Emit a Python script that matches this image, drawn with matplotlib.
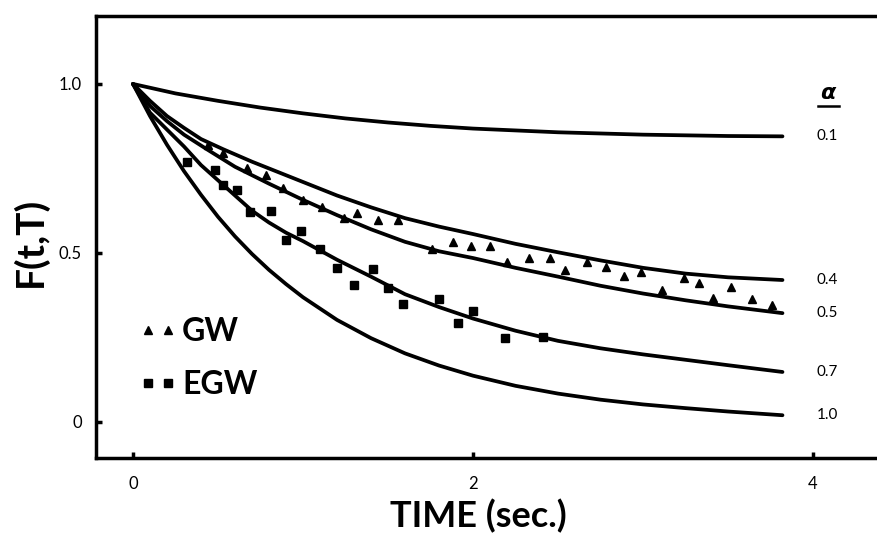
import numpy as np
import matplotlib
matplotlib.use("Agg")
import matplotlib.pyplot as plt
from matplotlib.lines import Line2D

plt.rcParams['font.family'] = ['Lato', 'DejaVu Sans']

# model curves, one per alpha
alphas = ["0.1", "0.4", "0.5", "0.7", "1.0"]
curve_t = {
    "0.1": [0, 0.25, 0.5, 0.75, 1.0, 1.25, 1.5, 1.75, 2.0, 2.5, 3.0, 3.5, 3.82],
    "0.4": [0, 0.1, 0.2, 0.3, 0.4, 0.53, 0.7, 0.86, 1.0, 1.2, 1.4, 1.6, 1.8, 2.0,
            2.25, 2.5, 2.75, 3.0, 3.25, 3.5, 3.82],
    "0.5": [0, 0.1, 0.2, 0.3, 0.44, 0.6, 0.8, 1.0, 1.2, 1.4, 1.6, 1.8, 2.0,
            2.25, 2.5, 2.75, 3.0, 3.25, 3.5, 3.82],
    "0.7": [0, 0.1, 0.2, 0.3, 0.4, 0.5, 0.6, 0.7, 0.8, 0.9, 1.0, 1.2, 1.4, 1.6,
            1.8, 2.0, 2.25, 2.5, 2.75, 3.0, 3.25, 3.5, 3.82],
    "1.0": [0, 0.1, 0.2, 0.3, 0.4, 0.5, 0.6, 0.7, 0.8, 0.9, 1.0, 1.2, 1.4, 1.6,
            1.8, 2.0, 2.25, 2.5, 2.75, 3.0, 3.25, 3.5, 3.82],
}
curve_f = {
    "0.1": [1.0, 0.972, 0.95, 0.93, 0.913, 0.898, 0.886, 0.876, 0.868, 0.857,
            0.85, 0.846, 0.845],
    "0.4": [1.0, 0.95, 0.905, 0.87, 0.837, 0.807, 0.77, 0.738, 0.71, 0.67, 0.635,
            0.603, 0.578, 0.556, 0.527, 0.502, 0.478, 0.456, 0.439, 0.428, 0.42],
    "0.5": [1.0, 0.935, 0.89, 0.85, 0.805, 0.755, 0.705, 0.657, 0.612, 0.57,
            0.533, 0.505, 0.485, 0.456, 0.43, 0.403, 0.38, 0.36, 0.342, 0.322],
    "0.7": [1.0, 0.915, 0.865, 0.815, 0.76, 0.715, 0.67, 0.625, 0.59, 0.56, 0.535,
            0.48, 0.43, 0.378, 0.34, 0.306, 0.27, 0.24, 0.218, 0.2, 0.184, 0.168, 0.148],
    "1.0": [1.0, 0.905, 0.82, 0.742, 0.672, 0.607, 0.549, 0.497, 0.45, 0.408, 0.369,
            0.302, 0.248, 0.203, 0.167, 0.137, 0.107, 0.084, 0.066, 0.052, 0.041,
            0.031, 0.02],
}

# GW (triangles)
gw_t = [0.44, 0.53, 0.67, 0.78, 0.88, 1.0, 1.11, 1.24, 1.32, 1.44, 1.56,
        1.76, 1.88, 1.99, 2.10, 2.20, 2.33, 2.45, 2.54, 2.67, 2.78, 2.89,
        2.99, 3.11, 3.24, 3.33, 3.41, 3.52, 3.64, 3.76]
gw_f = [0.82, 0.796, 0.751, 0.731, 0.692, 0.657, 0.636, 0.604, 0.618, 0.598, 0.598,
        0.512, 0.533, 0.521, 0.521, 0.473, 0.485, 0.485, 0.450, 0.473, 0.459, 0.432,
        0.444, 0.391, 0.426, 0.411, 0.367, 0.399, 0.364, 0.346]

# EGW (squares)
egw_t = [0.32, 0.48, 0.53, 0.61, 0.69, 0.81, 0.90, 0.99, 1.10, 1.20, 1.30,
         1.41, 1.50, 1.59, 1.80, 1.91, 2.0, 2.19, 2.41]
egw_f = [0.769, 0.746, 0.701, 0.686, 0.621, 0.624, 0.538, 0.565, 0.512, 0.456, 0.405,
         0.453, 0.396, 0.349, 0.364, 0.293, 0.328, 0.249, 0.251]

xticks = [0, 2, 4]
yticks = [0, 0.5, 1.0]
ytick_labels = ["0", "0.5", "1.0"]

fig = plt.figure(figsize=(8.77, 5.36), dpi=100)
ax = fig.add_axes([96 / 877, 1 - 458 / 536, 1 - 96 / 877, (458 - 16) / 536])

for a in alphas:
    ax.plot(curve_t[a], curve_f[a], color="black", lw=2.7, solid_capstyle="round",
            solid_joinstyle="round")
    ax.text(4.02, curve_f[a][-1], a, fontsize=11, va="center", ha="left")

ax.plot(gw_t, gw_f, linestyle="none", marker="^", ms=5.5, color="black")
ax.plot(egw_t, egw_f, linestyle="none", marker="s", ms=6, color="black")

ax.text(4.09, 0.972, r"$\boldsymbol{\alpha}$", fontsize=16, ha="center", va="center")
ax.plot([4.03, 4.15], [0.935, 0.935], color="black", lw=1.8, clip_on=False)

ax.set_xlim(-0.2176, 4.376)
ax.set_ylim(-0.1065, 1.201)
ax.spines["right"].set_visible(False)
for s in ["left", "bottom", "top"]:
    ax.spines[s].set_linewidth(2.5)

ax.set_xticks(xticks)
ax.set_xticklabels([str(v) for v in xticks])
ax.set_yticks(yticks)
ax.set_yticklabels(ytick_labels)
ax.tick_params(direction="in", length=4, width=2.5, labelsize=12, pad=13)
ax.tick_params(axis="y", pad=10)

ax.set_xlabel("TIME (sec.)", fontsize=26, fontweight="bold")
ax.xaxis.set_label_coords(0.489, -0.092)
ax.set_ylabel("F(t,T)", fontsize=28, fontweight="bold")
ax.yaxis.set_label_coords(-0.062, 0.49)

handles = [Line2D([], [], linestyle="none", marker="^", ms=5.5, color="black"),
           Line2D([], [], linestyle="none", marker="s", ms=6, color="black")]
ax.legend(handles, ["GW", "EGW"], loc="center left", bbox_to_anchor=(0.0335, 0.226),
          frameon=False, numpoints=2, handlelength=1.22, handletextpad=0.15,
          borderpad=0, labelspacing=0.75, prop={"size": 23, "weight": "bold"})

fig.savefig("out.png", dpi=100)
